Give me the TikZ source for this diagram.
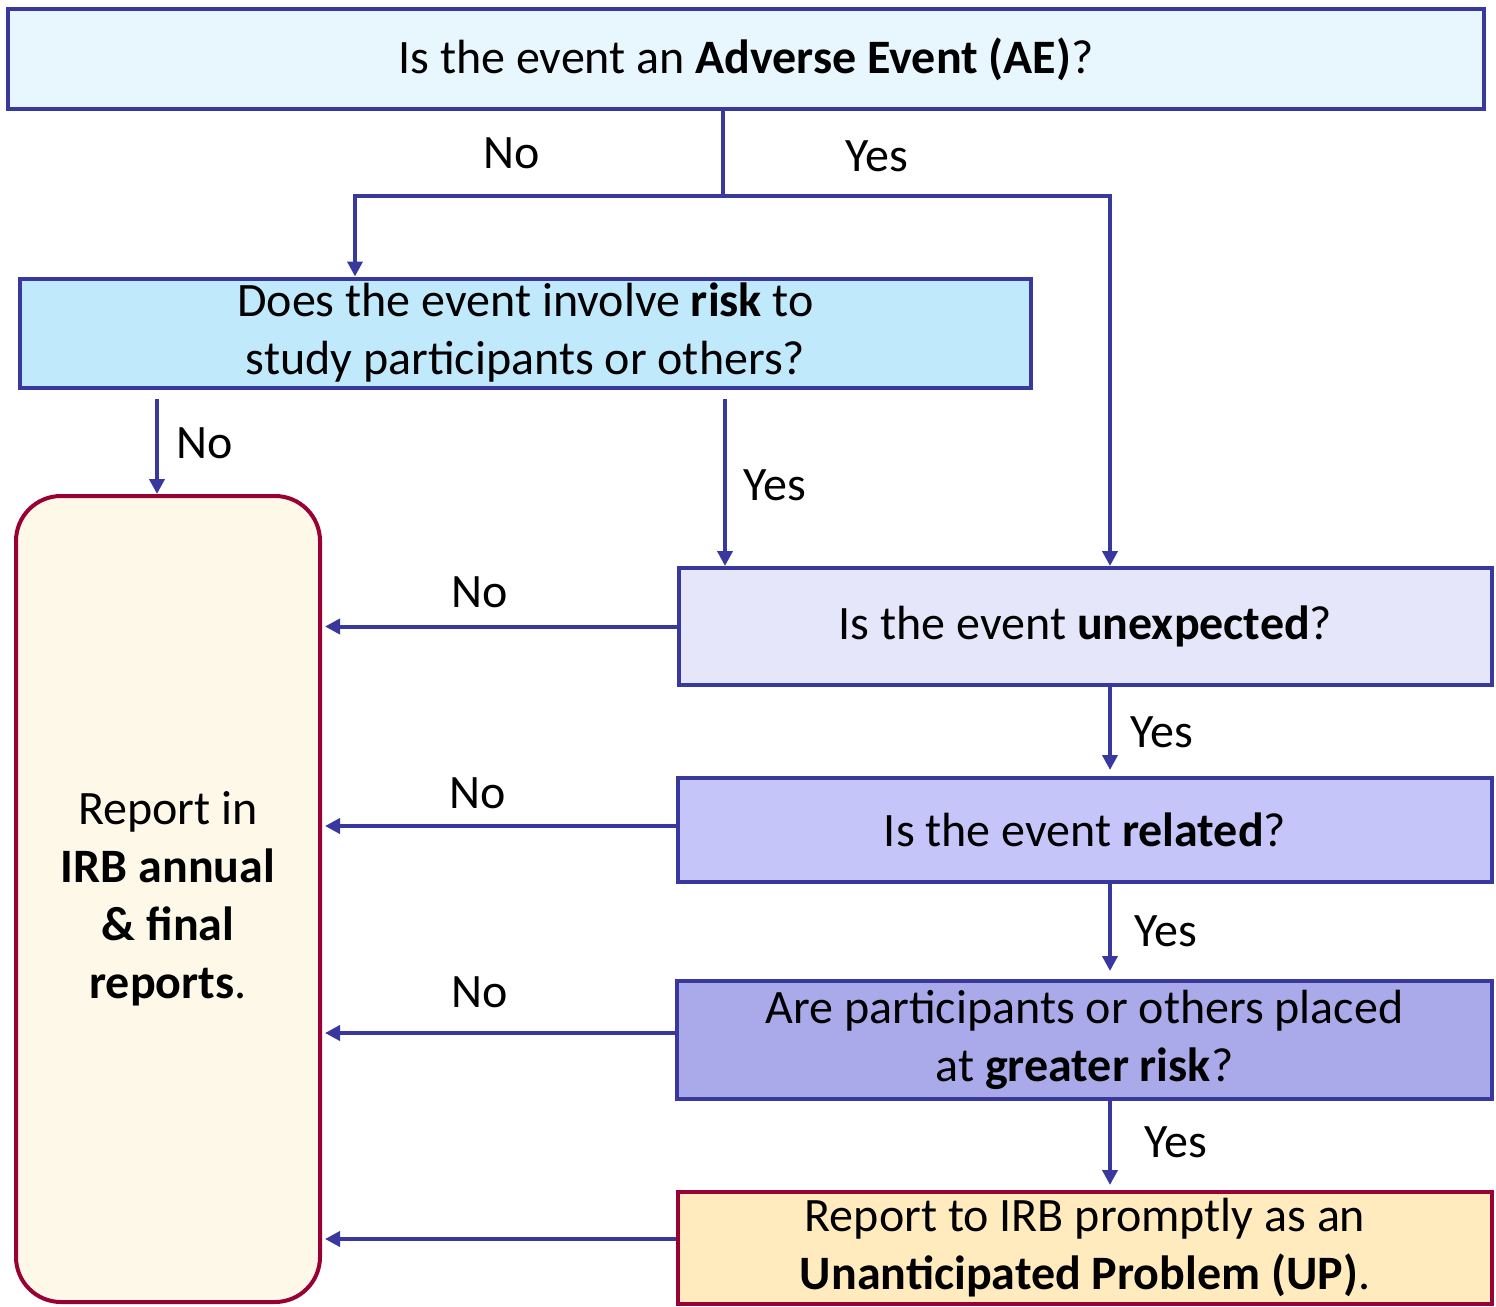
\documentclass[tikz,border=0pt]{standalone}
\usepackage{fontspec}
\setmainfont{Carlito}
\usepackage{xcolor}
\usetikzlibrary{arrows.meta, positioning}

\definecolor{flowblue}{RGB}{56,56,158}
\definecolor{flowred}{RGB}{153,0,51}
\definecolor{aefill}{RGB}{232,246,253}
\definecolor{riskfill}{RGB}{192,233,252}
\definecolor{unexpfill}{RGB}{230,230,250}
\definecolor{relfill}{RGB}{197,197,249}
\definecolor{greatfill}{RGB}{170,170,234}
\definecolor{upfill}{RGB}{255,235,190}
\definecolor{reportfill}{RGB}{254,248,232}

\begin{document}
\begin{tikzpicture}[x=1pt, y=-1pt,
    every node/.style={font=\fontsize{48}{58}\selectfont},
    box/.style={draw=flowblue, line width=4pt, align=center, inner sep=0pt},
    endbox/.style={draw=flowred, line width=4pt, align=center, inner sep=0pt},
    arr/.style={-{Triangle[length=15pt, width=15pt]}, flowblue, line width=4pt}]
    \useasboundingbox (0,0) rectangle (1496,1306);

    % Question boxes
    \node[box, fill=aefill, minimum width=1476pt, minimum height=100pt] (ae) at (746,59)
        {Is the event an \textbf{Adverse Event (AE)}?};
    \node[box, fill=riskfill, minimum width=1011pt, minimum height=109pt] (risk) at (525.5,333)
        {Does the event involve \textbf{risk} to\\study participants or others?};
    \node[box, fill=unexpfill, minimum width=813pt, minimum height=117pt] (unexp) at (1085.5,626.5)
        {Is the event \textbf{unexpected}?};
    \node[box, fill=relfill, minimum width=814pt, minimum height=104pt] (rel) at (1085,830)
        {Is the event \textbf{related}?};
    \node[box, fill=greatfill, minimum width=815pt, minimum height=118pt] (great) at (1084.5,1040)
        {Are participants or others placed\\at \textbf{greater risk}?};

    % Outcome boxes
    \node[endbox, fill=reportfill, rounded corners=45pt, minimum width=304pt, minimum height=806pt] (report) at (168,899)
        {Report in\\\textbf{IRB annual}\\\textbf{\& final}\\\textbf{reports}.};
    \node[endbox, fill=upfill, minimum width=814pt, minimum height=112pt] (up) at (1085,1248)
        {Report to IRB promptly as an\\\textbf{Unanticipated Problem (UP)}.};

    % AE split
    \coordinate (split) at (723,196);
    \draw[flowblue, line width=4pt] (ae.south -| split) -- (split);
    \draw[arr] (split) -| ([xshift=-170.5pt]risk.north);
    \draw[arr] (split) -| ([xshift=24.5pt]unexp.north);
    \node at (512,153) {No};
    \node at (877,156) {Yes};

    % Risk branches
    \draw[arr] ([xshift=-368.5pt, yshift=-9pt]risk.south) -- ([xshift=-11pt]report.north);
    \draw[arr] ([xshift=199.5pt, yshift=-9pt]risk.south) -- ([xshift=-360.5pt]unexp.north);
    \node at (205,443) {No};
    \node at (775,485) {Yes};

    % Yes chain
    \draw[arr] ([xshift=24.5pt]unexp.south) -- ([xshift=25pt, yshift=6pt]rel.north);
    \draw[arr] ([xshift=25pt]rel.south) -- ([xshift=25.5pt, yshift=8pt]great.north);
    \draw[arr] ([xshift=25.5pt]great.south) -- ([xshift=25pt, yshift=5pt]up.north);
    \node at (1162,732) {Yes};
    \node at (1166,931) {Yes};
    \node at (1176,1142) {Yes};

    % No arrows to report
    \draw[arr] (unexp.west) -- ([xshift=3pt]report.east |- unexp.west);
    \draw[arr] ([yshift=4pt]rel.west) -- ([xshift=3pt, yshift=4pt]report.east |- rel.west);
    \draw[arr] ([yshift=7pt]great.west) -- ([xshift=3pt, yshift=7pt]report.east |- great.west);
    \draw[arr] ([yshift=9pt]up.west) -- ([xshift=3pt, yshift=9pt]report.east |- up.west);
    \node at (480,592) {No};
    \node at (478,793) {No};
    \node at (480,992) {No};
\end{tikzpicture}
\end{document}
